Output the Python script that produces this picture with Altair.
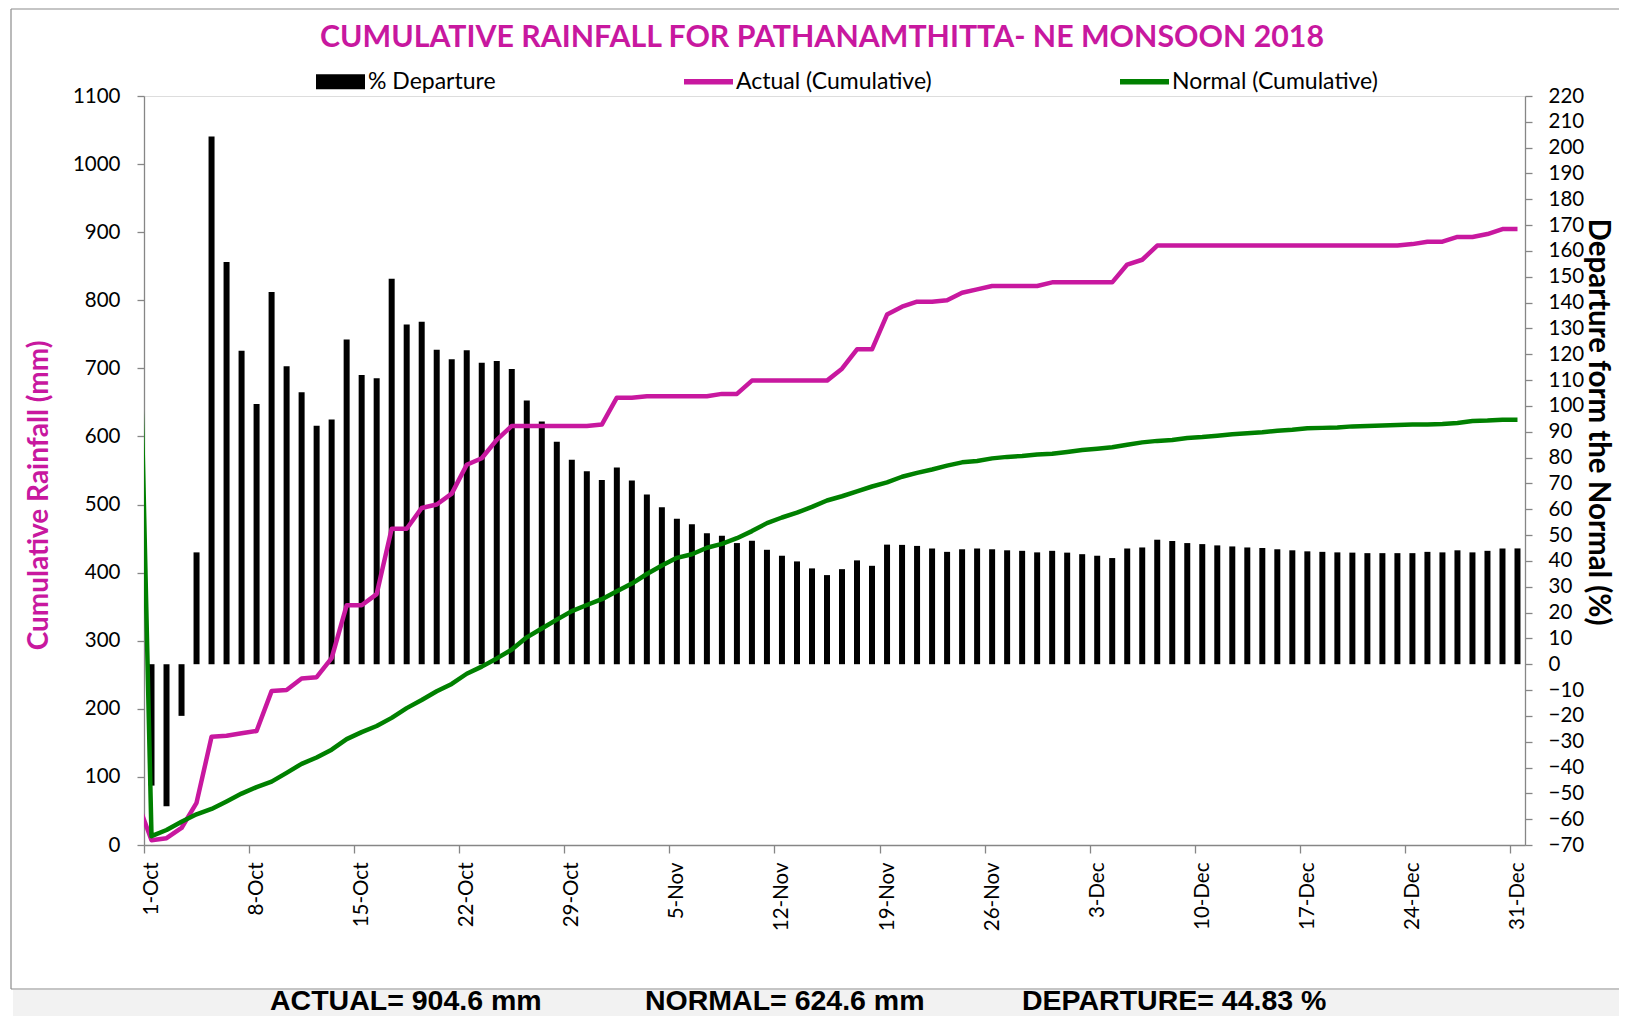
import altair as alt
import pandas as pd

# ---------------- data ----------------
# cumulative actual rainfall (mm); first value is 30-Sep (clipped off the left edge)
actual = [67,
          7, 10, 25, 62, 159, 160.5, 164,
          167.5, 226, 227.5, 244.5, 246.5, 274.5, 352,
          352, 368.5, 464.5, 464.5, 495, 500, 516,
          558.5, 568, 595, 615.5, 615.5, 615.5, 615.5,
          615.5, 615.5, 617.5, 657, 657, 659, 659,
          659, 659, 659, 662.5, 662.5, 682, 682,
          682, 682, 682, 682, 699.5, 728, 728,
          779, 790.5, 798, 798, 800, 811, 816,
          821, 821, 821, 821, 826.3, 826.3, 826.3,
          826.3, 826.3, 852.5, 859.5, 880.3, 880.3, 880.3,
          880.3, 880.3, 880.3, 880.3, 880.3, 880.3, 880.3,
          880.3, 880.3, 880.3, 880.3, 880.3, 880.3, 880.3,
          882.5, 886, 886, 893, 893, 897.3, 904.6,
          904.6]

# cumulative normal rainfall (mm); first value is 30-Sep (clipped off the left edge)
normal = [975,
          13, 22, 34, 45, 53, 64, 75.5,
          85, 93, 106, 119.2, 128.5, 140, 155.5,
          165.8, 174.8, 186.7, 201, 213, 225.7, 236.6,
          251.5, 262, 274, 287, 305, 318, 331,
          343.5, 352.5, 361, 372.5, 384, 398, 410.5,
          421.7, 427, 436.6, 442.2, 450.6, 461, 472.7,
          481, 488, 496.5, 506, 512.2, 519.3, 526.5,
          532.5, 540.8, 546.5, 551.5, 557.1, 562, 564,
          567.8, 570, 571.3, 573.5, 574.6, 577.3, 580,
          582, 584.2, 587.8, 591.3, 593.5, 594.8, 597.7,
          599.1, 601.2, 603.3, 604.8, 606.3, 608.5, 609.8,
          612, 612.6, 613.3, 614.8, 615.5, 616.2, 617,
          617.5, 617.5, 618.3, 619.8, 622.6, 623.3, 624.6,
          624.6]

# % departure, 1-Oct .. 31-Dec
departure = [-47, -55, -20, 43.3, 204.3, 155.7, 121.4,
             100.7, 144.1, 115.4, 105.3, 92.3, 94.7, 125.7,
             112.0, 110.7, 149.2, 131.5, 132.6, 121.8, 118.1,
             121.6, 116.7, 117.4, 114.3, 102.1, 94.0, 86.1,
             79.2, 74.7, 71.3, 76.2, 71.1, 65.7, 60.8,
             56.3, 54.2, 50.7, 49.7, 46.9, 47.8, 44.3,
             42.0, 39.8, 37.1, 34.5, 36.8, 40.2, 38.1,
             46.3, 46.2, 45.8, 44.8, 43.5, 44.5, 44.8,
             44.5, 44.1, 43.9, 43.3, 43.9, 43.2, 42.6,
             42.0, 41.1, 44.8, 45.2, 48.2, 47.7, 46.9,
             46.5, 46.0, 45.6, 45.2, 45.0, 44.5, 44.1,
             43.7, 43.5, 43.3, 43.2, 43.0, 43.0, 43.0,
             43.0, 43.5, 43.3, 44.1, 43.3, 43.9, 44.8,
             44.83]

series_names = ["% Departure", "Actual (Cumulative)", "Normal (Cumulative)"]
tick_days = [(10, 1), (10, 8), (10, 15), (10, 22), (10, 29), (11, 5), (11, 12),
             (11, 19), (11, 26), (12, 3), (12, 10), (12, 17), (12, 24), (12, 31)]
title_text = "CUMULATIVE RAINFALL FOR PATHANAMTHITTA- NE MONSOON 2018"
footer_texts = ["ACTUAL= 904.6 mm", "NORMAL= 624.6 mm", "DEPARTURE= 44.83 %"]

# ---------------- styling ----------------
magenta = "#C8189F"
green = "#008000"
gray = "#868686"
W, H = 1381, 749

dates = pd.date_range("2018-09-30", "2018-12-31", freq="D")
noon = [(d + pd.Timedelta(hours=12)).strftime("%Y-%m-%dT%H:%M:%SZ") for d in dates]
lines_df = pd.DataFrame({"date": noon, "actual": actual, "normal": normal})
bars_df = pd.DataFrame({"date": noon[1:], "dep": departure})
legend_df = pd.DataFrame({"series": series_names})
one = pd.DataFrame({"k": [0]})

x_scale = alt.Scale(type="utc", padding=0,
                    domain=[alt.DateTime(year=2018, month=10, date=1, utc=True),
                            alt.DateTime(year=2019, month=1, date=1, utc=True)])
x_axis = alt.Axis(values=[alt.DateTime(year=2018, month=m, date=d, utc=True) for m, d in tick_days],
                  format="%-d-%b", labelAngle=270, labelOffset=7.5, labelPadding=9,
                  tickSize=8, tickColor=gray, tickWidth=1.3, domainColor=gray, domainWidth=1.3,
                  labelFont="Lato", labelFontSize=20.5, labelColor="black", grid=False, title=None)

left_axis = alt.Axis(orient="left", values=list(range(0, 1101, 100)), format="d", grid=False,
                     domainColor=gray, domainWidth=1.3, tickColor=gray, tickWidth=1.3, tickSize=7,
                     labelFont="Lato", labelFontSize=20.5, labelColor="black", labelPadding=17,
                     title="Cumulative Rainfall (mm)", titleFont="Lato", titleFontSize=28,
                     titleFontWeight="bold", titleColor=magenta, titleX=-104.6, titleY=399,
                     titleAngle=270, titleBaseline="middle", titleAlign="center")

right_axis = alt.Axis(orient="right", values=list(range(-70, 221, 10)), format="d", grid=False,
                      domainColor=gray, domainWidth=1.3, tickColor=gray, tickWidth=1.3, tickSize=7,
                      labelFont="Lato", labelFontSize=20.5, labelColor="black", labelPadding=16,
                      title="Departure form the Normal (%)", titleFont="Lato", titleFontSize=29.5,
                      titleFontWeight="bold", titleColor="black", titleX=72, titleY=325.5,
                      titleAngle=90, titleBaseline="middle", titleAlign="center")

bars = alt.Chart(bars_df).mark_bar(size=6, color="black").encode(
    x=alt.X("date:T", scale=x_scale, axis=x_axis),
    y=alt.Y("dep:Q", scale=alt.Scale(domain=[-70, 220], nice=False), axis=right_axis),
)

left_scale = alt.Scale(domain=[0, 1100], nice=False)
base = alt.Chart(lines_df).encode(x=alt.X("date:T", scale=x_scale, axis=x_axis))
actual_line = base.mark_line(color=magenta, strokeWidth=4.5, clip=True, strokeJoin="round").encode(
    y=alt.Y("actual:Q", scale=left_scale, axis=left_axis))
normal_line = base.mark_line(color=green, strokeWidth=4.5, clip=True, strokeJoin="round").encode(
    y=alt.Y("normal:Q", scale=left_scale, axis=left_axis))
lines = alt.layer(actual_line, normal_line)

leg = alt.Legend(title=None, orient="none", legendX=172, legendY=-39, direction="horizontal",
                 symbolSize=2401, symbolStrokeWidth=0, labelFont="Lato", labelFontSize=23,
                 labelColor="black", labelOffset=3, labelLimit=500, columnPadding=188, padding=0)
rect_path = "M-1,-0.31L1,-0.31L1,0.31L-1,0.31Z"
line_path = "M-1,-0.11L1,-0.11L1,0.11L-1,0.11Z"
legend_layer = alt.Chart(legend_df).mark_point(filled=True, opacity=1).encode(
    color=alt.Color("series:N", scale=alt.Scale(domain=series_names, range=["black", magenta, green]),
                    legend=leg),
    shape=alt.Shape("series:N", scale=alt.Scale(domain=series_names, range=[rect_path, line_path, line_path]),
                    legend=leg),
).transform_filter("false")

# title, chart-area frame and the footer strip
title = alt.Chart(one).mark_text(text=title_text, align="center", baseline="alphabetic", font="Lato",
                                 fontSize=30.3, fontWeight="bold", color=magenta).encode(
    x=alt.value(678), y=alt.value(-49))
frame_top = alt.Chart(one).mark_rule(color="#8c8c8c", strokeWidth=1.2).encode(
    x=alt.value(-133), x2=alt.value(1475), y=alt.value(-87))
frame_left = alt.Chart(one).mark_rule(color="#8c8c8c", strokeWidth=1.2).encode(
    x=alt.value(-133), y=alt.value(-87), y2=alt.value(893))
frame_bottom = alt.Chart(one).mark_rule(color="#8c8c8c", strokeWidth=1.2).encode(
    x=alt.value(-133), x2=alt.value(1475), y=alt.value(893))
strip = alt.Chart(one).mark_rect(color="#f2f2f2").encode(
    x=alt.value(-131), x2=alt.value(1475), y=alt.value(894), y2=alt.value(921))
footer_x = [126, 501, 878]
footers = [alt.Chart(one).mark_text(text=t, align="left", baseline="alphabetic", font="Liberation Sans",
                                    fontSize=28.5, fontWeight="bold", color="black").encode(
    x=alt.value(fx), y=alt.value(914)) for t, fx in zip(footer_texts, footer_x)]

chart = alt.layer(bars, lines, legend_layer, title, frame_top, frame_left, frame_bottom, strip,
                  *footers).resolve_scale(
    y="independent"
).properties(
    width=W, height=H,
    autosize=alt.AutoSizeParams(type="none"),
    padding={"left": 136, "top": 88, "right": 94, "bottom": 171},
).configure_view(stroke=None).configure(background="white")

chart.save("out.html", embed_options={"renderer": "svg", "actions": False})
